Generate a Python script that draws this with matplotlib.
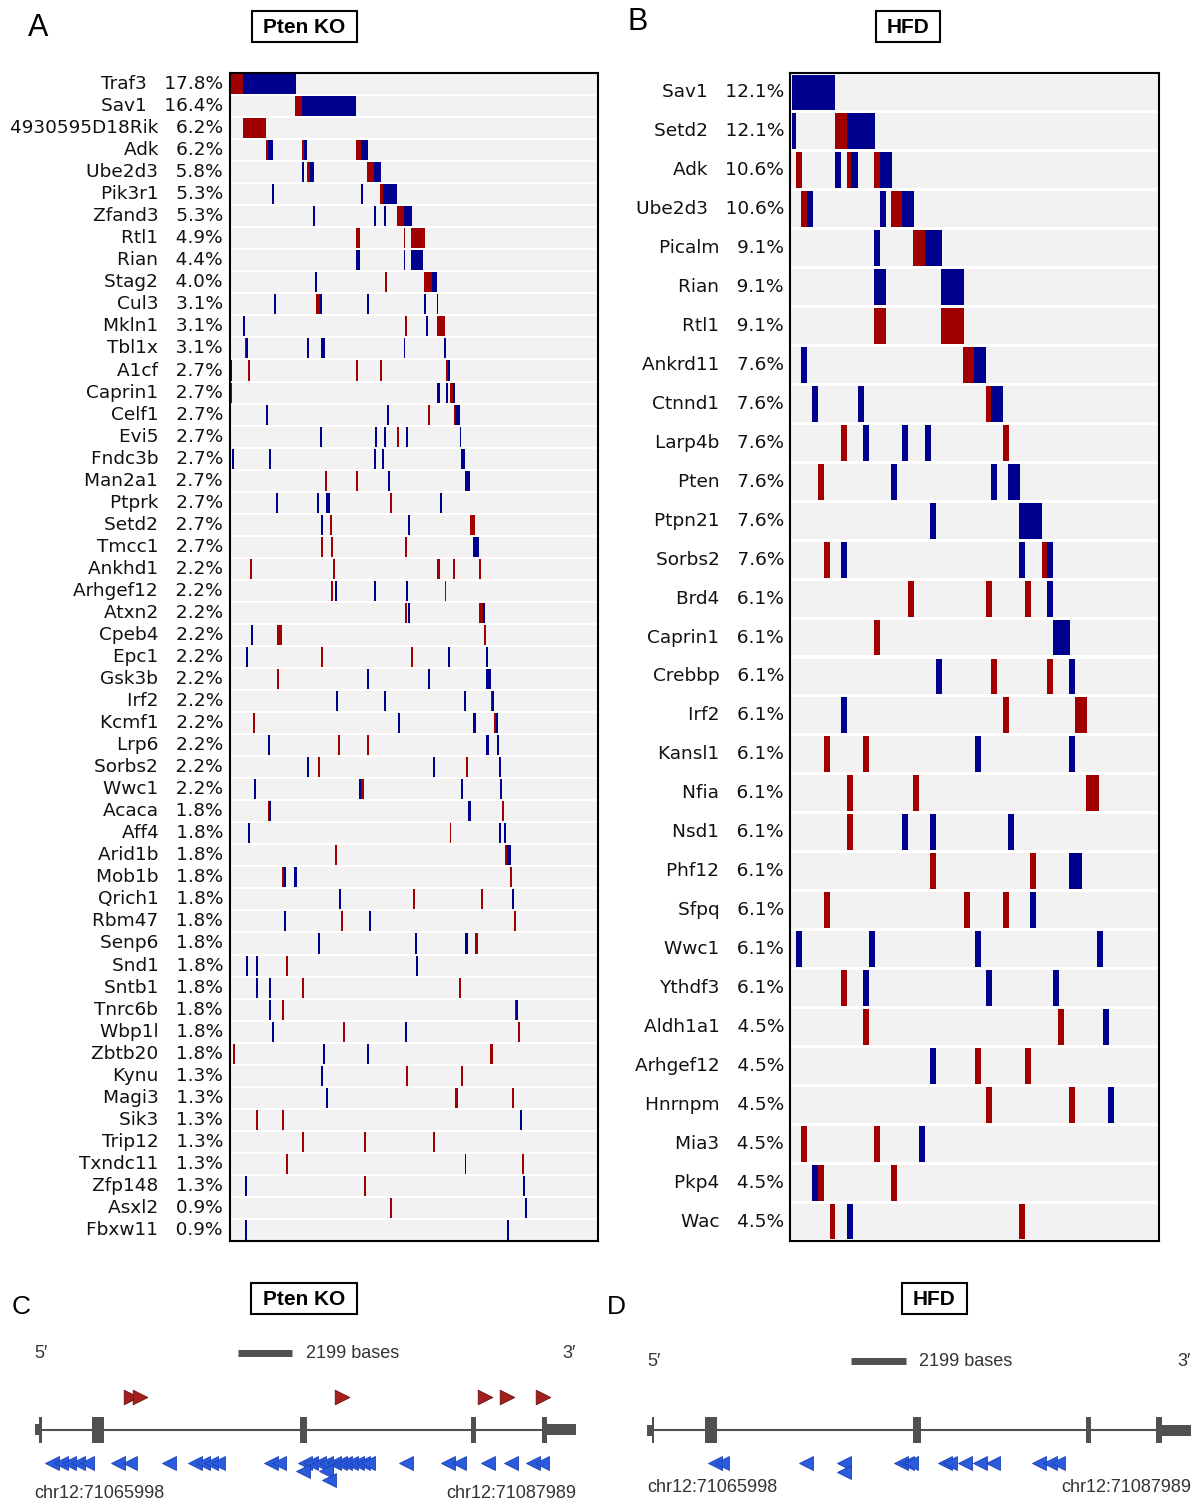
import matplotlib.pyplot as plt
from matplotlib.patches import Rectangle

W, H = 1191, 1502
RED = '#a00000'
BLUE = '#00008f'
BAND = '#f2f2f2'
COLORS = {'r': RED, 'b': BLUE}

# Panel A: Pten KO, insertion runs per gene (start, end, strand colour)
pten_genes = ['Traf3', 'Sav1', '4930595D18Rik', 'Adk', 'Ube2d3', 'Pik3r1', 'Zfand3', 'Rtl1', 'Rian',
              'Stag2', 'Cul3', 'Mkln1', 'Tbl1x', 'A1cf', 'Caprin1', 'Celf1', 'Evi5', 'Fndc3b',
              'Man2a1', 'Ptprk', 'Setd2', 'Tmcc1', 'Ankhd1', 'Arhgef12', 'Atxn2', 'Cpeb4', 'Epc1',
              'Gsk3b', 'Irf2', 'Kcmf1', 'Lrp6', 'Sorbs2', 'Wwc1', 'Acaca', 'Aff4', 'Arid1b', 'Mob1b',
              'Qrich1', 'Rbm47', 'Senp6', 'Snd1', 'Sntb1', 'Tnrc6b', 'Wbp1l', 'Zbtb20', 'Kynu',
              'Magi3', 'Sik3', 'Trip12', 'Txndc11', 'Zfp148', 'Asxl2', 'Fbxw11']
pten_pct = [17.8, 16.4, 6.2, 6.2, 5.8, 5.3, 5.3, 4.9, 4.4, 4.0, 3.1, 3.1, 3.1,
            2.7, 2.7, 2.7, 2.7, 2.7, 2.7, 2.7, 2.7, 2.7,
            2.2, 2.2, 2.2, 2.2, 2.2, 2.2, 2.2, 2.2, 2.2, 2.2, 2.2,
            1.8, 1.8, 1.8, 1.8, 1.8, 1.8, 1.8, 1.8, 1.8, 1.8, 1.8, 1.8,
            1.3, 1.3, 1.3, 1.3, 1.3, 1.3, 0.9, 0.9]
pten_hits = [
    [(0.8, 13.1, 'r'), (13.1, 66.1, 'b')],
    [(65.3, 72.6, 'r'), (72.6, 126.7, 'b')],
    [(13.1, 36.1, 'r')],
    [(36.5, 38.8, 'r'), (38.8, 43.4, 'b'), (72.6, 74.9, 'r'), (74.9, 77.6, 'b'), (126.7, 131.7, 'r'), (131.7, 138.6, 'b')],
    [(72.6, 74.5, 'b'), (77.6, 80.3, 'r'), (80.3, 84.5, 'b'), (137.5, 144.8, 'r'), (144.8, 151.7, 'b')],
    [(42.3, 44.2, 'b'), (131.7, 133.6, 'b'), (150.5, 153.2, 'r'), (153.2, 167.8, 'b')],
    [(83.4, 85.7, 'b'), (144.8, 146.7, 'b'), (154.8, 156.7, 'b'), (167.8, 174.0, 'r'), (174.0, 182.8, 'b')],
    [(126.7, 130.6, 'r'), (174.0, 175.9, 'r'), (181.6, 195.8, 'r')],
    [(126.7, 130.6, 'b'), (174.0, 175.9, 'b'), (181.6, 193.9, 'b')],
    [(85.7, 87.6, 'b'), (155.9, 157.8, 'r'), (194.7, 202.7, 'r'), (202.7, 207.0, 'b')],
    [(44.2, 46.5, 'b'), (86.4, 90.3, 'r'), (90.3, 92.6, 'b'), (137.5, 139.8, 'b'), (194.7, 196.6, 'b'), (207.0, 208.9, 'b')],
    [(13.1, 15.0, 'b'), (175.9, 177.8, 'r'), (196.6, 198.5, 'b'), (207.7, 215.0, 'r')],
    [(15.0, 16.2, 'r'), (16.2, 18.1, 'b'), (77.6, 79.5, 'b'), (91.4, 95.6, 'b'), (174.0, 175.9, 'b'), (214.6, 216.9, 'b')],
    [(0.1, 2.4, 'b'), (18.1, 20.4, 'r'), (126.7, 128.7, 'r'), (150.5, 152.8, 'r'), (216.9, 218.1, 'r'), (218.1, 220.0, 'b')],
    [(0.8, 2.4, 'r'), (207.7, 210.0, 'b'), (216.9, 218.9, 'b'), (220.0, 223.1, 'r'), (223.1, 225.0, 'b')],
    [(36.1, 38.5, 'b'), (157.8, 159.8, 'b'), (198.9, 200.8, 'r'), (224.6, 225.4, 'r'), (225.4, 230.0, 'b')],
    [(90.3, 92.6, 'b'), (145.5, 147.9, 'b'), (154.4, 156.7, 'b'), (167.4, 169.7, 'r'), (176.6, 178.9, 'b'), (230.0, 231.9, 'b')],
    [(2.4, 4.3, 'b'), (39.2, 41.5, 'b'), (144.8, 146.7, 'b'), (152.8, 154.8, 'b'), (231.2, 235.0, 'b')],
    [(95.6, 97.6, 'r'), (126.7, 128.7, 'r'), (158.6, 160.9, 'b'), (235.0, 240.0, 'b')],
    [(46.5, 48.4, 'b'), (87.6, 89.5, 'b'), (96.4, 100.6, 'b'), (160.5, 162.8, 'r'), (210.0, 212.0, 'b')],
    [(91.4, 93.3, 'b'), (100.3, 102.6, 'r'), (178.9, 180.9, 'b'), (240.0, 245.0, 'r')],
    [(91.4, 93.3, 'r'), (101.4, 103.7, 'r'), (175.5, 177.8, 'r'), (243.8, 249.2, 'b')],
    [(20.4, 22.3, 'r'), (103.7, 105.6, 'r'), (207.7, 210.0, 'r'), (223.1, 225.0, 'r'), (249.2, 251.1, 'r')],
    [(101.4, 103.7, 'r'), (105.2, 107.5, 'b'), (144.8, 146.7, 'b'), (176.6, 178.9, 'b'), (215.0, 216.9, 'r')],
    [(175.5, 177.8, 'r'), (178.5, 180.9, 'b'), (249.2, 253.0, 'r'), (253.0, 255.0, 'b')],
    [(21.2, 23.5, 'b'), (47.3, 52.3, 'r'), (254.2, 256.1, 'r')],
    [(16.2, 18.1, 'b'), (91.4, 93.3, 'r'), (181.6, 183.9, 'r'), (218.1, 220.0, 'b'), (256.1, 258.0, 'b')],
    [(47.3, 49.6, 'r'), (137.5, 139.8, 'b'), (198.9, 200.8, 'b'), (256.9, 261.1, 'b')],
    [(106.4, 108.7, 'b'), (154.4, 156.7, 'b'), (234.6, 236.9, 'b'), (261.1, 262.2, 'r'), (262.2, 264.2, 'b')],
    [(23.5, 25.4, 'r'), (168.6, 170.9, 'b'), (243.8, 246.1, 'b'), (264.2, 266.1, 'r'), (266.1, 268.0, 'b')],
    [(38.5, 40.4, 'b'), (108.7, 110.6, 'r'), (137.5, 139.8, 'r'), (256.9, 259.2, 'b'), (267.2, 269.2, 'b')],
    [(77.6, 79.5, 'b'), (88.4, 90.7, 'r'), (203.9, 205.8, 'b'), (236.1, 238.1, 'r'), (269.2, 271.1, 'b')],
    [(24.2, 26.2, 'b'), (129.8, 131.7, 'b'), (131.7, 134.4, 'r'), (231.2, 233.1, 'b'), (270.3, 272.2, 'b')],
    [(38.5, 39.2, 'r'), (39.2, 41.5, 'b'), (238.8, 241.1, 'b'), (272.2, 274.1, 'r')],
    [(18.1, 20.4, 'b'), (220.0, 221.9, 'r'), (269.9, 271.8, 'b'), (274.1, 276.1, 'b')],
    [(105.6, 107.5, 'r'), (275.3, 277.2, 'r'), (277.2, 281.1, 'b')],
    [(52.3, 54.2, 'r'), (54.2, 56.5, 'b'), (64.9, 67.2, 'b'), (280.3, 282.2, 'r')],
    [(109.5, 111.8, 'b'), (183.9, 185.9, 'r'), (251.1, 253.0, 'r'), (282.2, 284.1, 'b')],
    [(54.2, 56.5, 'b'), (111.8, 113.7, 'r'), (139.4, 141.7, 'b'), (284.1, 286.0, 'r')],
    [(88.4, 90.7, 'b'), (185.5, 187.8, 'b'), (235.8, 238.1, 'b'), (245.7, 248.0, 'r')],
    [(16.2, 18.1, 'b'), (26.2, 28.5, 'b'), (56.1, 58.4, 'r'), (186.6, 188.9, 'b')],
    [(26.2, 28.5, 'b'), (39.2, 41.5, 'b'), (72.6, 74.5, 'r'), (229.6, 231.9, 'r')],
    [(39.2, 41.5, 'b'), (52.3, 54.2, 'r'), (285.3, 286.8, 'r'), (286.8, 288.7, 'b')],
    [(42.3, 44.2, 'b'), (113.7, 115.6, 'r'), (175.5, 177.8, 'b'), (288.0, 290.3, 'r')],
    [(3.1, 5.4, 'r'), (93.3, 95.6, 'b'), (137.5, 139.8, 'b'), (260.7, 263.0, 'r')],
    [(91.4, 93.3, 'b'), (176.6, 178.9, 'r'), (231.2, 233.1, 'r')],
    [(96.4, 98.7, 'b'), (225.8, 228.1, 'r'), (282.2, 284.1, 'r')],
    [(26.2, 28.5, 'r'), (52.3, 54.2, 'r'), (290.3, 292.2, 'b')],
    [(72.6, 74.5, 'r'), (134.4, 136.7, 'r'), (203.9, 205.8, 'r')],
    [(56.1, 58.4, 'r'), (235.0, 236.9, 'b'), (292.2, 294.1, 'r')],
    [(15.0, 17.3, 'b'), (134.4, 136.7, 'r'), (293.3, 295.3, 'b')],
    [(160.5, 162.8, 'r'), (295.3, 297.2, 'b')],
    [(15.0, 17.3, 'b'), (277.2, 279.1, 'b')],
]
pten_span = 368

# Panel B: HFD
hfd_genes = ['Sav1', 'Setd2', 'Adk', 'Ube2d3', 'Picalm', 'Rian', 'Rtl1', 'Ankrd11', 'Ctnnd1', 'Larp4b',
             'Pten', 'Ptpn21', 'Sorbs2', 'Brd4', 'Caprin1', 'Crebbp', 'Irf2', 'Kansl1', 'Nfia', 'Nsd1',
             'Phf12', 'Sfpq', 'Wwc1', 'Ythdf3', 'Aldh1a1', 'Arhgef12', 'Hnrnpm', 'Mia3', 'Pkp4', 'Wac']
hfd_pct = [12.1, 12.1, 10.6, 10.6, 9.1, 9.1, 9.1, 7.6, 7.6, 7.6, 7.6, 7.6, 7.6,
           6.1, 6.1, 6.1, 6.1, 6.1, 6.1, 6.1, 6.1, 6.1, 6.1, 6.1,
           4.5, 4.5, 4.5, 4.5, 4.5, 4.5]
hfd_hits = [
    [(1.5, 45.0, 'b')],
    [(1.5, 6.0, 'b'), (44.6, 56.7, 'r'), (56.7, 84.7, 'b')],
    [(6.4, 12.4, 'r'), (44.6, 50.6, 'b'), (56.7, 61.2, 'r'), (61.2, 67.6, 'b'), (83.5, 89.6, 'r'), (89.6, 101.7, 'b')],
    [(11.3, 17.4, 'r'), (17.4, 23.4, 'b'), (89.6, 95.6, 'b'), (100.5, 111.9, 'r'), (111.9, 123.6, 'b')],
    [(83.5, 89.6, 'b'), (122.8, 134.9, 'r'), (134.9, 152.0, 'b')],
    [(83.5, 95.6, 'b'), (150.8, 173.9, 'b')],
    [(83.5, 95.6, 'r'), (150.8, 173.9, 'r')],
    [(11.3, 17.4, 'b'), (172.7, 184.1, 'r'), (184.1, 195.8, 'b')],
    [(22.3, 28.3, 'b'), (67.6, 73.7, 'b'), (195.8, 201.1, 'r'), (201.1, 213.2, 'b')],
    [(50.6, 56.7, 'r'), (72.6, 78.6, 'b'), (111.9, 117.9, 'b'), (134.9, 141.0, 'b'), (213.2, 218.9, 'r')],
    [(28.3, 34.4, 'r'), (100.5, 106.6, 'b'), (201.1, 207.2, 'b'), (218.1, 230.2, 'b')],
    [(139.9, 145.9, 'b'), (229.1, 252.1, 'b')],
    [(33.6, 39.7, 'r'), (50.6, 56.7, 'b'), (229.1, 235.1, 'b'), (252.1, 257.1, 'r'), (257.1, 263.1, 'b')],
    [(117.9, 123.6, 'r'), (195.8, 201.9, 'r'), (235.1, 241.2, 'r'), (257.1, 263.1, 'b')],
    [(83.5, 89.6, 'r'), (263.1, 280.1, 'b')],
    [(145.9, 152.0, 'b'), (201.1, 207.2, 'r'), (257.1, 263.1, 'r'), (279.4, 285.4, 'b')],
    [(50.6, 56.7, 'b'), (213.2, 218.9, 'r'), (285.4, 297.1, 'r')],
    [(33.6, 39.7, 'r'), (72.6, 78.6, 'r'), (184.8, 190.9, 'b'), (279.4, 285.4, 'b')],
    [(56.7, 62.7, 'r'), (122.8, 128.9, 'r'), (296.4, 308.5, 'r')],
    [(56.7, 62.7, 'r'), (111.9, 117.9, 'b'), (139.9, 145.9, 'b'), (218.1, 224.2, 'b')],
    [(139.9, 145.9, 'r'), (240.0, 246.1, 'r'), (279.4, 291.5, 'b')],
    [(33.6, 39.7, 'r'), (173.9, 179.9, 'r'), (213.2, 218.9, 'r'), (240.0, 246.1, 'b')],
    [(6.4, 12.4, 'b'), (78.6, 84.7, 'b'), (184.8, 190.9, 'b'), (307.3, 313.4, 'b')],
    [(50.6, 56.7, 'r'), (72.6, 78.6, 'b'), (195.8, 201.9, 'b'), (263.1, 269.2, 'b')],
    [(72.6, 78.6, 'r'), (268.0, 274.1, 'r'), (313.4, 319.4, 'b')],
    [(139.9, 145.9, 'b'), (184.8, 190.9, 'r'), (235.1, 241.2, 'r')],
    [(195.8, 201.9, 'r'), (279.4, 285.4, 'r'), (318.3, 324.4, 'b')],
    [(11.3, 17.4, 'r'), (83.5, 89.6, 'r'), (128.9, 134.9, 'b')],
    [(22.3, 28.3, 'b'), (28.3, 34.4, 'r'), (100.5, 106.6, 'r')],
    [(39.7, 45.3, 'r'), (56.7, 62.7, 'b'), (229.1, 235.1, 'r')],
]
hfd_span = 369

# Panels C/D: Pten locus, offsets in bases from chr12:71065998
chr_start, chr_end = 71065998, 71087989
scale_bases = 2199
scale_at = 8264
utr_blocks = [(0, 280), (20815, 21991)]
exon_blocks = [(200, 290), (2340, 2840), (10765, 11065), (17745, 17945), (20590, 20815)]
pten_fwd = [3919, 4272, 12504, 18315, 19200, 20658]
pten_rev = [703, 1064, 1405, 1762, 2152, 3399, 3870, 5458, 6518, 6863, 7172, 7452, 9588, 9949,
            10993, 11229, 11537, 11850, 12163, 12394, 12630, 12861, 13097, 13332, 13564,
            15078, 16808, 17227, 18429, 19335, 20236, 20609, 10916, 11850, 11976]
pten_rev_row = [0] * 32 + [1, 1, 2]
hfd_rev = [2761, 3020, 6428, 7961, 10253, 10512, 10665, 12040, 12238, 12849, 13463, 13997,
           15832, 16289, 16629, 7961]
hfd_rev_row = [0] * 15 + [1]

plt.rcParams['font.family'] = ['DejaVu Sans']
fig = plt.figure(figsize=(W / 100, H / 100), dpi=100)


def px_axes(x0, y0, x1, y1):
    return fig.add_axes([x0 / W, 1 - y1 / H, (x1 - x0) / W, (y1 - y0) / H])


def hit_panel(box, genes, pct, hits, span, band_h, label_x):
    ax = px_axes(*box)
    n = len(genes)
    ax.barh(range(n), span, left=0, height=band_h, color=BAND, linewidth=0)
    for i, row in enumerate(hits):
        for s, e, c in row:
            ax.barh(i, e - s, left=s, height=band_h, color=COLORS[c], linewidth=0)
    ax.set_xlim(0, span)
    ax.set_ylim(n - 0.5, -0.5)
    ax.set_xticks([])
    ax.set_yticks([])
    for sp in ax.spines.values():
        sp.set_linewidth(1.5)
    for i, (g, p) in enumerate(zip(genes, pct)):
        ax.text(label_x, i, f'{g}   {p:.1f}%', transform=ax.get_yaxis_transform(),
                ha='right', va='center', fontsize=13.3, color='#111111')
    return ax


hit_panel((229.5, 73, 597.5, 1241), pten_genes, pten_pct, pten_hits, pten_span, 0.91, -6.5 / 368)
hit_panel((790, 73, 1159, 1241), hfd_genes, hfd_pct, hfd_hits, hfd_span, 0.92, -6 / 369)

SANS = ['Liberation Sans', 'DejaVu Sans']


def fx(x):
    return x / W


def fy(y):
    return 1 - y / H


# panel letters
for letter, x, y, size in [('A', 28, 36, 22), ('B', 628, 30, 22), ('C', 12, 1314, 19), ('D', 607, 1314, 19)]:
    fig.text(fx(x), fy(y), letter, fontsize=size, family=SANS, ha='left', va='baseline')

# title boxes
for label, x0, x1, y0, y1 in [('Pten KO', 252, 357, 11, 42), ('HFD', 876, 940, 11, 42),
                              ('Pten KO', 251, 357, 1283, 1314), ('HFD', 902, 967, 1283, 1314)]:
    fig.add_artist(Rectangle((fx(x0), fy(y1)), (x1 - x0) / W, (y1 - y0) / H, transform=fig.transFigure,
                             facecolor='white', edgecolor='black', linewidth=1.5))
    fig.text(fx((x0 + x1) / 2), fy((y0 + y1) / 2 + 1), label, fontsize=15, fontweight='bold', family=SANS,
             ha='center', va='center')


def locus_panel(x0, x1, y_top, y_scale, y_red, y_line, y_blue, y_chr, fwd, rev, rev_row):
    ax = px_axes(x0 - 1, y_top, x1 + 1, 1502)
    span = chr_end - chr_start
    pad = span / (x1 - x0)
    ax.set_xlim(-pad, span + pad)
    ax.set_ylim(1502, y_top)
    ax.axis('off')
    grey = '#505050'
    ax.plot([0, span], [y_line, y_line], color=grey, lw=1.5, solid_capstyle='butt')
    for s, e in utr_blocks:
        ax.add_patch(Rectangle((s, y_line - 5.5), e - s, 11, color=grey, lw=0))
    for s, e in exon_blocks:
        ax.add_patch(Rectangle((s, y_line - 13), e - s, 26, color=grey, lw=0))
    ax.plot([scale_at, scale_at + scale_bases], [y_scale, y_scale], color=grey, lw=5, solid_capstyle='butt')
    tcol = '#333333'
    ax.text(scale_at + scale_bases + 550, y_scale, f'{scale_bases} bases', fontsize=13, family=SANS,
            color=tcol, ha='left', va='center')
    ax.text(0, y_scale, '5\u2032', fontsize=13, family=SANS, color=tcol, ha='left', va='center')
    ax.text(span, y_scale, '3\u2032', fontsize=13, family=SANS, color=tcol, ha='right', va='center')
    ax.text(0, y_chr, f'chr12:{chr_start}', fontsize=13, family=SANS, color=tcol, ha='left', va='center')
    ax.text(span, y_chr, f'chr12:{chr_end}', fontsize=13, family=SANS, color=tcol, ha='right', va='center')
    if fwd:
        ax.scatter(fwd, [y_red] * len(fwd), marker='>', s=110, color='#a3201f', edgecolors='#6e1010',
                   linewidths=0.6, zorder=3)
    ax.scatter(rev, [y_blue + 8.5 * r for r in rev_row], marker='<', s=100, color='#2a5bdc',
               edgecolors='#1a3fb5', linewidths=0.6, zorder=3)


locus_panel(34.5, 576, 1330, 1353, 1397, 1429.5, 1462.5, 1493, pten_fwd, pten_rev, pten_rev_row)
locus_panel(647, 1191, 1330, 1361, None, 1430, 1463, 1488, [], hfd_rev, hfd_rev_row)

fig.savefig('out.png', dpi=100)
